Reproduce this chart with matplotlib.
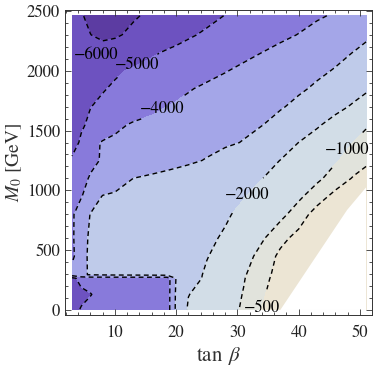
import numpy as np
import matplotlib
matplotlib.use("Agg")
import matplotlib.pyplot as plt
from matplotlib.ticker import MultipleLocator

plt.rcParams["font.family"] = ["STIXGeneral", "DejaVu Serif"]
plt.rcParams["mathtext.fontset"] = "stix"

# grid nodes (tan beta, M0) and values
tanb = [3, 4.5, 6, 8, 10, 13, 16, 18.5, 20, 22, 25, 28, 31, 34, 37, 40, 43, 46, 49, 51]
m0 = [0, 130, 265, 295, 450, 600, 800, 950, 1100, 1250, 1400, 1550, 1700, 1850,
      2000, 2150, 2300, 2460]
z = [
    [-5400, -4900, -4600, -4500, -4500, -4500, -4500, -4500, -2820, -1884, -1568, -1253, -917, -495, -350, -200, -200, -200, -200, -200],
    [-5400, -5300, -5050, -4600, -4500, -4500, -4500, -4500, -2850, -2023, -1674, -1326, -971, -529, -380, -250, -200, -200, -200, -200],
    [-5300, -4600, -4500, -4500, -4500, -4500, -4500, -4500, -2950, -2440, -1829, -1434, -1039, -591, -380, -300, -200, -150, -100, -100],
    [-3500, -3100, -2950, -2900, -2850, -2820, -2780, -2740, -2640, -2380, -1878, -1473, -1068, -621, -380, -250, -150, -100, -100, -100],
    [-4300, -3100, -2943, -2848, -2752, -2610, -2467, -2348, -2276, -2181, -2038, -1681, -1246, -797, -400, -300, -200, -100, -50, -50],
    [-4200, -3140, -2943, -2855, -2767, -2636, -2504, -2395, -2329, -2241, -2110, -1929, -1500, -1071, -632, -350, -250, -150, -100, -50],
    [-4150, -3430, -2975, -2893, -2811, -2689, -2566, -2463, -2402, -2320, -2197, -2074, -1859, -1506, -1153, -742, -300, -150, -100, -50],
    [-4500, -4060, -3455, -2960, -2879, -2758, -2637, -2536, -2476, -2395, -2274, -2153, -2032, -1767, -1433, -1100, -721, -350, -200, -100],
    [-4500, -4250, -3920, -3653, -3387, -2995, -2855, -2738, -2668, -2575, -2435, -2294, -2154, -2014, -1722, -1412, -1103, -778, -450, -300],
    [-4900, -4600, -4200, -3921, -3809, -3640, -3472, -3331, -3247, -3135, -2952, -2712, -2472, -2232, -1990, -1677, -1365, -1052, -778, -600],
    [-5300, -4889, -4222, -3938, -3855, -3731, -3607, -3504, -3442, -3360, -3236, -3112, -2968, -2645, -2323, -1995, -1659, -1318, -980, -800],
    [-5250, -5100, -4862, -4517, -4172, -3915, -3788, -3682, -3619, -3534, -3407, -3280, -3153, -3025, -2742, -2419, -2097, -1724, -1329, -1066],
    [-5250, -5140, -5016, -4852, -4689, -4443, -4197, -3995, -3920, -3819, -3668, -3518, -3367, -3216, -3065, -2828, -2525, -2222, -1900, -1700],
    [-5350, -5300, -5200, -5050, -4901, -4688, -4475, -4298, -4191, -4050, -3881, -3725, -3569, -3413, -3257, -3101, -2895, -2595, -2295, -2095],
    [-5500, -5500, -5450, -5300, -5100, -4907, -4733, -4588, -4500, -4384, -4209, -4035, -3855, -3675, -3494, -3313, -3133, -2952, -2772, -2652],
    [-5600, -5650, -5700, -5700, -5580, -5380, -5100, -4911, -4822, -4704, -4527, -4349, -4172, -3994, -3790, -3587, -3385, -3182, -2980, -2850],
    [-5600, -5850, -5990, -6150, -6100, -5840, -5592, -5383, -5258, -5092, -4886, -4705, -4524, -4343, -4163, -3976, -3736, -3496, -3256, -3096],
    [-5800, -5950, -6150, -6300, -6300, -6080, -5860, -5676, -5566, -5419, -5199, -4982, -4805, -4627, -4450, -4272, -4095, -3917, -3740, -3621],
]

levels = [-7000, -6000, -5000, -4000, -3000, -2000, -1000, -500, 0]
band_colors = ["#5c3ca2", "#6d52c0", "#887adb", "#a4a6e8", "#bfcbea",
               "#d2dde7", "#e1e3dc", "#ece5d4"]

# excluded corner (no solution), left white
excl_tanb = [37.0, 47.9, 51.0, 51.0]
excl_m0 = [0, 836, 1025, 0]

# contour labels: level -> position
label_pos = {-5000: (13.5, 2055), -4000: (17.8, 1672), -2000: (32.2, 930),
             -1000: (47.7, 1345), -500: (33.9, 17)}
label_6000 = (6.9, 2132)

fig = plt.figure(figsize=(3.74, 3.68), dpi=100)
ax = fig.add_axes([0.175, 0.144, 0.8195, 0.8288])

ax.contourf(tanb, m0, z, levels=levels, colors=band_colors, zorder=1)
ax.fill(excl_tanb, excl_m0, color="white", lw=0, zorder=1.5)


def fmt(v):
    return "\u2212%d" % abs(int(v))


for lv in levels[1:-1]:
    cs = ax.contour(tanb, m0, z, levels=[lv], colors="black",
                    linewidths=1.0, linestyles=[(0, (3.5, 2.5))], zorder=2)
    if lv in label_pos:
        labels = ax.clabel(cs, manual=[label_pos[lv]], inline=True,
                           fmt=fmt, fontsize=12, inline_spacing=2)
        for t in labels:
            t.set_rotation(0)

ax.text(label_6000[0], label_6000[1], fmt(-6000), fontsize=12,
        ha="center", va="center", zorder=3)

ax.set_xlim(1.92, 51.96)
ax.set_ylim(-42, 2508)
ax.set_xticks([10, 20, 30, 40, 50])
ax.set_yticks([0, 500, 1000, 1500, 2000, 2500])
ax.xaxis.set_minor_locator(MultipleLocator(2))
ax.yaxis.set_minor_locator(MultipleLocator(100))
ax.tick_params(which="both", direction="in", top=True, right=True,
               width=0.6, color="#333333", labelcolor="#222222", labelsize=12)
ax.tick_params(which="major", length=4.5)
ax.tick_params(which="minor", length=2.5)
ax.tick_params(axis="x", pad=7)
ax.tick_params(axis="y", pad=4)
for s in ax.spines.values():
    s.set_linewidth(0.7)
    s.set_color("#333333")

ax.set_xlabel(r"$\tan\;\beta$", fontsize=15, color="#333333", labelpad=3)
ax.set_ylabel(r"$M_0$ [GeV]", fontsize=14, color="#333333", labelpad=2)

fig.savefig("out.png", dpi=100)
